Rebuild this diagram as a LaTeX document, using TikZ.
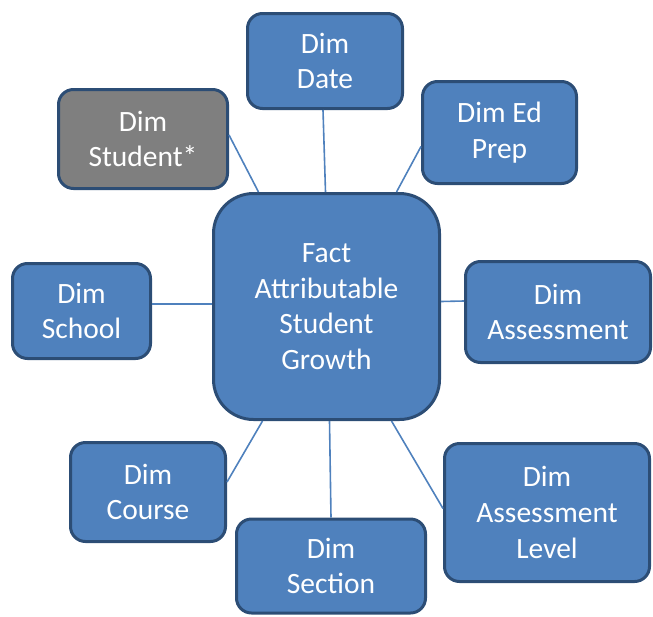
\documentclass[tikz,border=0pt]{standalone}
\usepackage{fontspec}
\setmainfont{Carlito}
\definecolor{boxfill}{HTML}{4F81BD}
\definecolor{boxline}{HTML}{2C4D75}
\definecolor{greyfill}{HTML}{7F7F7F}
\tikzset{
  dimbox/.style={draw=boxline, line width=3pt, fill=boxfill, rounded corners=15pt,
    text=white, align=center, inner sep=0pt,
    font=\fontsize{29.5}{35.7}\selectfont},
  link/.style={draw=boxfill, line width=1.6pt}
}
\begin{document}
\begin{tikzpicture}[x=1pt,y=-1pt]

\useasboundingbox (0,0) rectangle (653,616);

\node[dimbox, rounded corners=40pt, minimum width=226pt, minimum height=226pt] (fact) at (326.5,306.5) {Fact\\Attributable\\Student\\Growth};

\node[dimbox, minimum width=155pt, minimum height=95pt] (date) at (325,61) {Dim\\Date};
\node[dimbox, minimum width=154pt, minimum height=102pt] (edprep) at (499.5,132.5) {Dim Ed\\Prep};
\node[dimbox, fill=greyfill, minimum width=169pt, minimum height=99pt] (student) at (143,139) {Dim\\Student*};
\node[dimbox, minimum width=138pt, minimum height=95pt] (school) at (81.5,311) {Dim\\School};
\node[dimbox, minimum width=185pt, minimum height=101pt] (assess) at (558,312) {Dim\\Assessment};
\node[dimbox, minimum width=155pt, minimum height=99pt] (course) at (148,492) {Dim\\Course};
\node[dimbox, minimum width=189pt, minimum height=94pt] (section) at (331,566) {Dim\\Section};
\node[dimbox, minimum width=205pt, minimum height=138pt] (level) at (547,512.5) {Dim\\Assessment\\Level};

% links to the fact table
\draw[link] ([yshift=4pt]student.east) -- ([xshift=-68pt]fact.north);
\draw[link] ([xshift=-2pt]date.south) -- ([xshift=-1pt]fact.north);
\draw[link] ([yshift=-14pt]edprep.west) -- ([xshift=70pt]fact.north);
\draw[link] ([yshift=7pt]school.east) -- ([yshift=2.5pt]fact.west);
\draw[link] ([yshift=11pt]assess.west) -- ([yshift=5pt]fact.east);
\draw[link] ([yshift=10pt]course.east) -- ([xshift=-64pt]fact.south);
\draw[link] (section.north) -- ([xshift=3pt]fact.south);
\draw[link] ([yshift=4pt]level.west) -- ([xshift=65pt]fact.south);

\end{tikzpicture}
\end{document}
